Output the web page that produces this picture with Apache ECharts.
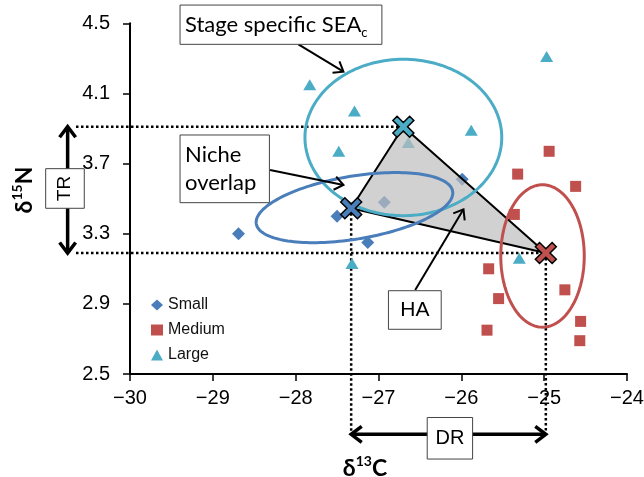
<!DOCTYPE html>
<html>
<head>
<meta charset="utf-8">
<script src="https://cdn.jsdelivr.net/npm/echarts@6.0.0/dist/echarts.min.js"></script>
<style>
  html, body { margin: 0; padding: 0; background: #fff; }
  #chart { width: 644px; height: 477px; }
</style>
</head>
<body>
<div id="chart"></div>
<script>
// d13C, d15N per size class
const smallPoints = [[-28.69, 3.30], [-27.50, 3.40], [-27.13, 3.25], [-26.93, 3.48], [-25.99, 3.61]];
const mediumPoints = [[-24.94, 3.77], [-25.32, 3.64], [-24.62, 3.57], [-25.36, 3.41], [-25.67, 3.10],
  [-24.75, 2.98], [-25.55, 2.93], [-24.56, 2.80], [-25.69, 2.75], [-24.57, 2.69]];
const largePoints = [[-24.97, 4.31], [-25.88, 3.89], [-25.30, 3.16], [-27.83, 4.15], [-27.29, 4.00],
  [-27.48, 3.77], [-26.64, 3.82], [-27.32, 3.13]];

// stage centroids
const centroidSmall = [-27.33, 3.445];
const centroidMedium = [-24.98, 3.19];
const centroidLarge = [-26.70, 3.91];

// SEAc ellipses: centre x, centre y, half width, half height, skew (rad)
const seaSmall = [-27.29, 3.449, 1.187, 0.200, 0.43];
const seaMedium = [-25.02, 3.173, 0.504, 0.406, 0.0];
const seaLarge = [-26.70, 3.849, 1.188, 0.446, 0.0];

const xMin = -30, xMax = -24, xStep = 1;
const yMin = 2.5, yMax = 4.5, yStep = 0.4;

const BLUE = '#4a7ebb', RED = '#c0504d', TEAL = '#4bacc6';
const TICK_FONT = "'Liberation Sans', Arial, sans-serif";
const NOTE_FONT = "Lato, 'Liberation Sans', sans-serif";

// annotation layout (axis units)
const boxStage = [-29.396, 4.604, -26.959, 4.380];
const boxNiche = [-29.396, 3.863, -28.317, 3.477];
const boxHA = [-26.880, 2.975, -26.243, 2.755];
const boxTR = [-31.018, 3.671, -30.552, 3.445];
const boxDR = [-26.412, 2.252, -25.864, 2.015];
const arrowStage = [[-27.967, 4.380], [-27.423, 4.224]];
const arrowNiche = [[-28.309, 3.663], [-27.423, 3.578]];
const arrowHA = [[-26.557, 2.979], [-25.974, 3.439]];
const trArrowX = -30.753;
const drArrowY = 2.156;
const guideStartX = -30.652;

const chart = echarts.init(document.getElementById('chart'));

function arrow(api, a, b, width, both) {
  const p0 = api.coord(a), p1 = api.coord(b);
  const out = [{ type: 'line', shape: { x1: p0[0], y1: p0[1], x2: p1[0], y2: p1[1] },
    style: { stroke: '#000', lineWidth: width } }];
  const head = (tip, from) => {
    const ang = Math.atan2(tip[1] - from[1], tip[0] - from[0]);
    const L = 8 + width * 1.5, s = 0.65;
    return { type: 'polyline', shape: { points: [
      [tip[0] - L * Math.cos(ang - s), tip[1] - L * Math.sin(ang - s)], tip,
      [tip[0] - L * Math.cos(ang + s), tip[1] - L * Math.sin(ang + s)]] },
      style: { stroke: '#000', lineWidth: width, fill: 'none', lineJoin: 'miter' } };
  };
  out.push(head(p1, p0));
  if (both) out.push(head(p0, p1));
  return out;
}

function box(api, r) {
  const p0 = api.coord([r[0], r[1]]), p1 = api.coord([r[2], r[3]]);
  return { type: 'rect', shape: { x: p0[0], y: p0[1], width: p1[0] - p0[0], height: p1[1] - p0[1] },
    style: { fill: '#fff', stroke: '#444', lineWidth: 1 } };
}

function dotted(api, a, b) {
  const p0 = api.coord(a), p1 = api.coord(b);
  return { type: 'line', shape: { x1: p0[0], y1: p0[1], x2: p1[0], y2: p1[1] },
    style: { stroke: '#000', lineWidth: 2.5, lineDash: [2.5, 2.5] } };
}

function ellipseSeries(sea, color) {
  return {
    type: 'custom', z: 4, silent: true,
    data: [[sea[0], sea[1]]],
    renderItem: (params, api) => {
      const pts = [];
      for (let i = 0; i < 160; i++) {
        const t = i / 160 * Math.PI * 2;
        pts.push(api.coord([sea[0] + sea[2] * Math.cos(t), sea[1] + sea[3] * Math.sin(t + sea[4])]));
      }
      return { type: 'polygon', shape: { points: pts }, style: { fill: 'none', stroke: color, lineWidth: 3 } };
    }
  };
}

const xMark = 'path://M0,2 L2,0 L5,3 L8,0 L10,2 L7,5 L10,8 L8,10 L5,7 L2,10 L0,8 L3,5 Z';

const option = {
  animation: false,
  backgroundColor: '#fff',
  grid: { left: 130, right: 17, top: 23.3, bottom: 103, outerBoundsMode: 'none' },
  legend: {
    orient: 'vertical', left: 151, top: 297, padding: 0,
    itemWidth: 12, itemHeight: 11, itemGap: 9,
    textStyle: { fontFamily: TICK_FONT, fontSize: 16, color: '#111' },
    data: [
      { name: 'Small', icon: 'diamond' },
      { name: 'Medium', icon: 'rect' },
      { name: 'Large', icon: 'triangle' }
    ]
  },
  xAxis: {
    type: 'value', min: xMin, max: xMax, interval: xStep,
    axisLine: { show: true, onZero: false, lineStyle: { color: '#000', width: 2 } },
    axisTick: { show: true, length: 7, lineStyle: { color: '#000', width: 1.5 } },
    splitLine: { show: false },
    axisLabel: { margin: 14, color: '#000', fontFamily: TICK_FONT, fontSize: 20,
      formatter: v => String(v).replace('-', '\u2212') }
  },
  yAxis: {
    type: 'value', min: yMin, max: yMax, interval: yStep,
    axisLine: { show: true, onZero: false, lineStyle: { color: '#000', width: 2 } },
    axisTick: { show: true, length: 7, lineStyle: { color: '#000', width: 1.5 } },
    splitLine: { show: false },
    axisLabel: { margin: 20, color: '#000', fontFamily: TICK_FONT, fontSize: 20,
      formatter: v => v.toFixed(1) }
  },
  graphic: [
    { type: 'text', x: 365, y: 467, z: 10,
      style: { text: '{a|δ}{b|13}{a|C}', align: 'center', verticalAlign: 'middle',
        rich: { a: { fontFamily: NOTE_FONT, fontWeight: 'bold', fontSize: 23, lineHeight: 26, fill: '#000', verticalAlign: 'bottom' },
                b: { fontFamily: NOTE_FONT, fontWeight: 'bold', fontSize: 14, lineHeight: 14, fill: '#000', verticalAlign: 'top' } } } },
    { type: 'text', x: 23, y: 190, rotation: Math.PI / 2, z: 10,
      style: { text: '{a|δ}{b|15}{a|N}', align: 'center', verticalAlign: 'middle',
        rich: { a: { fontFamily: NOTE_FONT, fontWeight: 'bold', fontSize: 23, lineHeight: 26, fill: '#000', verticalAlign: 'bottom' },
                b: { fontFamily: NOTE_FONT, fontWeight: 'bold', fontSize: 14, lineHeight: 14, fill: '#000', verticalAlign: 'top' } } } }
  ],
  series: [
    { name: 'Small', type: 'scatter', z: 2, symbol: 'diamond', symbolSize: 13,
      itemStyle: { color: BLUE, opacity: 1 }, data: smallPoints },
    { name: 'Medium', type: 'scatter', z: 2, symbol: 'rect', symbolSize: 11,
      itemStyle: { color: RED, opacity: 1 }, data: mediumPoints },
    { name: 'Large', type: 'scatter', z: 2, symbol: 'triangle', symbolSize: [13, 11],
      itemStyle: { color: TEAL, opacity: 1 }, data: largePoints },
    // dotted guides
    { type: 'custom', z: 1, silent: true, data: [centroidSmall],
      renderItem: (params, api) => ({ type: 'group', children: [
        dotted(api, [guideStartX, centroidLarge[1]], centroidLarge),
        dotted(api, [guideStartX, centroidMedium[1]], centroidMedium),
        dotted(api, centroidSmall, [centroidSmall[0], drArrowY]),
        dotted(api, centroidMedium, [centroidMedium[0], drArrowY])
      ] }) },
    // hull between centroids
    { type: 'custom', z: 3, silent: true, data: [centroidSmall],
      renderItem: (params, api) => ({ type: 'polygon',
        shape: { points: [api.coord(centroidLarge), api.coord(centroidSmall), api.coord(centroidMedium)] },
        style: { fill: 'rgba(190,190,190,0.7)', stroke: '#000', lineWidth: 2, lineJoin: 'round' } }) },
    ellipseSeries(seaLarge, TEAL),
    ellipseSeries(seaSmall, BLUE),
    ellipseSeries(seaMedium, RED),
    { type: 'scatter', z: 5, symbol: xMark, symbolSize: 21,
      itemStyle: { borderColor: '#000', borderWidth: 1.5, opacity: 1 },
      data: [
        { value: centroidLarge, itemStyle: { color: TEAL } },
        { value: centroidSmall, itemStyle: { color: BLUE } },
        { value: centroidMedium, itemStyle: { color: RED } }
      ] },
    // notes, arrows and range bars
    { type: 'custom', z: 6, silent: true, data: [centroidSmall],
      renderItem: (params, api) => {
        const kids = [];
        kids.push(...arrow(api, [trArrowX, centroidLarge[1]], [trArrowX, centroidMedium[1]], 3.5, true));
        kids.push(...arrow(api, [centroidSmall[0], drArrowY], [centroidMedium[0], drArrowY], 3.5, true));
        kids.push(...arrow(api, arrowStage[0], arrowStage[1], 2, false));
        kids.push(...arrow(api, arrowNiche[0], arrowNiche[1], 2, false));
        kids.push(...arrow(api, arrowHA[0], arrowHA[1], 2, false));
        [boxStage, boxNiche, boxHA, boxTR, boxDR].forEach(r => kids.push(box(api, r)));
        const c = r => { const a = api.coord([r[0], r[1]]), b = api.coord([r[2], r[3]]); return [(a[0] + b[0]) / 2, (a[1] + b[1]) / 2, a[0]]; };
        const s = c(boxStage), n = c(boxNiche), h = c(boxHA), t = c(boxTR), d = c(boxDR);
        kids.push({ type: 'text', x: s[2] + 5, y: s[1],
          style: { text: '{a|Stage specific SEA}{b|c}', align: 'left', verticalAlign: 'middle',
            rich: { a: { fontFamily: NOTE_FONT, fontSize: 22, lineHeight: 30, fill: '#000', verticalAlign: 'middle' },
                    b: { fontFamily: NOTE_FONT, fontSize: 13, lineHeight: 13, fill: '#000', verticalAlign: 'bottom' } } } });
        kids.push({ type: 'text', x: n[2] + 5, y: n[1],
          style: { text: 'Niche\noverlap', align: 'left', verticalAlign: 'middle',
            fontFamily: NOTE_FONT, fontSize: 22, lineHeight: 28, fill: '#000' } });
        kids.push({ type: 'text', x: h[0], y: h[1],
          style: { text: 'HA', align: 'center', verticalAlign: 'middle', fontFamily: TICK_FONT, fontSize: 21, fill: '#000' } });
        kids.push({ type: 'text', x: d[0], y: d[1],
          style: { text: 'DR', align: 'center', verticalAlign: 'middle', fontFamily: TICK_FONT, fontSize: 20, fill: '#000' } });
        kids.push({ type: 'text', x: t[0], y: t[1], rotation: Math.PI / 2,
          style: { text: 'TR', align: 'center', verticalAlign: 'middle', fontFamily: TICK_FONT, fontSize: 19, fill: '#000' } });
        return { type: 'group', children: kids };
      } }
  ]
};

chart.setOption(option);
</script>
</body>
</html>
